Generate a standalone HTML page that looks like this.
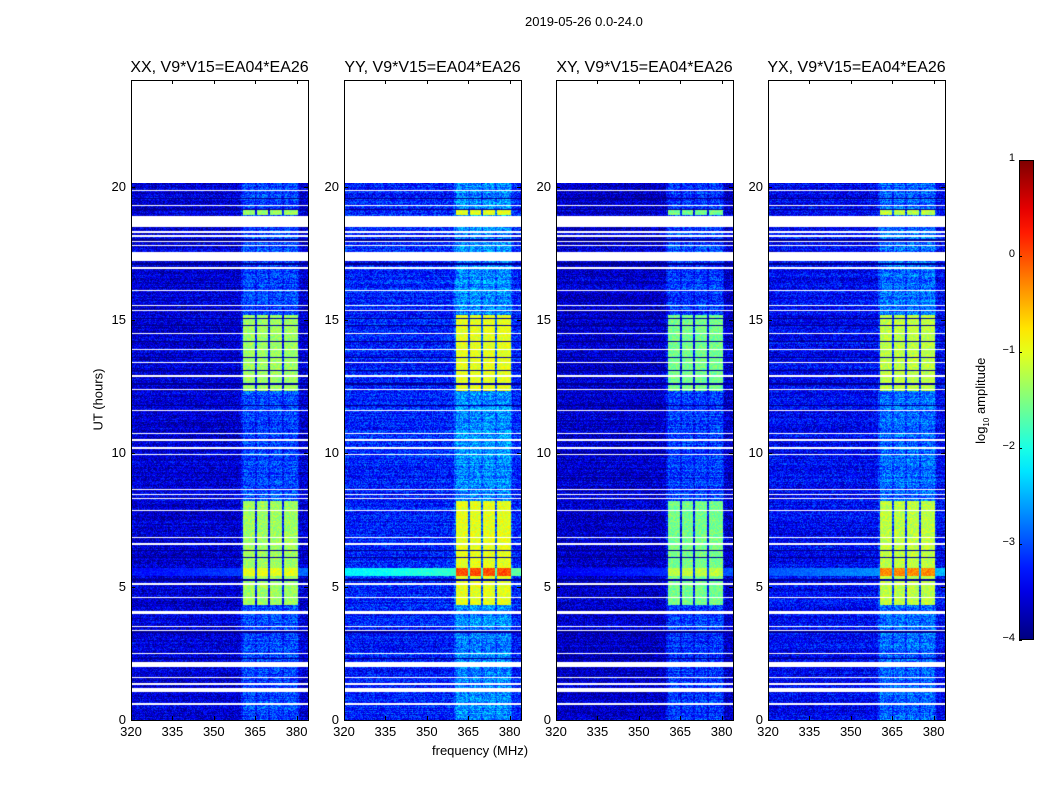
<!DOCTYPE html>
<html><head><meta charset="utf-8"><style>
body{margin:0;background:#fff;font-family:"Liberation Sans",sans-serif;}
#wrap{position:relative;width:1050px;height:800px;overflow:hidden;background:#fff}
.t{position:absolute;font-size:13px;color:#000;white-space:nowrap}
canvas{position:absolute}
.frame{position:absolute;border:1px solid #000;box-sizing:border-box}
.tk{position:absolute;background:#000}
</style></head><body>
<div id="wrap">
<div class="t" style="left:525px;top:14px">2019-05-26 0.0-24.0</div>
<div class="t" style="left:432px;top:743px">frequency (MHz)</div>
<div class="t" style="left:55px;top:392px;transform:rotate(-90deg);transform-origin:center;width:86px;text-align:center">UT (hours)</div>
<div class="t" style="left:935px;top:392px;transform:rotate(-90deg);width:94px;text-align:center">log<sub style="font-size:8px">10</sub> amplitude</div>
<div id="cbar" style="position:absolute;left:1019px;top:160px;width:15px;height:480px;border:1px solid #000;box-sizing:border-box"></div>
</div>
<script>
const panelNames=["XX","YY","XY","YX"];
const panelBase=[-3.6,-3.25,-3.65,-3.4];
const panelRfi=[-1.35,-1.0,-1.55,-1.2];
const panelEvent=[-3.4,-2.2,-3.5,-3.0];
const panelEventRfi=[-1.0,0.0,-1.2,-0.3];
const whiteGaps=[[18.5,18.9],[17.2,17.55],[3.97,4.1],[2.0,2.17],[1.05,1.2]];
const thinWhite=[19.85,19.3,18.3,18.15,17.95,17.8,16.95,16.1,15.55,15.35,14.5,13.9,13.4,12.9,12.4,11.6,10.75,10.5,10.2,9.95,8.65,8.45,8.3,7.85,6.85,6.6,5.1,4.6,3.5,3.35,2.5,1.6,1.35,0.6];
const darkLines=[19.55,19.15,18.0,17.1,15.05,14.8,14.2,13.6,13.1,12.6,11.8,6.35,6.1,5.25,3.3,2.3];
const burstTimes=[[12.35,15.2],[4.3,8.2],[18.95,19.15]];
const rfiChannels=[[360.5,365],[365.5,369.8],[370.5,374.6],[375.6,380.4]];
const eventBand=[5.4,5.7];
const xTicks=[320,335,350,365,380];
const yTicks=[0,5,10,15,20];
const cbTicks=[1,0,-1,-2,-3,-4];
const dataEnd=20.15;

const panelX=[131,344,556,768],PW=177,PT=80,PH=640;
const yOf=h=>720-h*26.67;
const xOf=(p,f)=>panelX[p]+(f-320)*2.76;
const vmin=-4,vmax=1;
function jet(v){let t=Math.max(0,Math.min(1,(v-vmin)/(vmax-vmin)));
 const c=x=>Math.round(255*Math.max(0,Math.min(1,1.5-Math.abs(4*t-x))));return [c(3),c(2),c(1)];}
function hash(a,b){let h=(a*374761393+b*668265263)|0;h=(h^(h>>>13))*1274126177|0;h^=h>>>16;return (h>>>0)/4294967296;}
const wrap=document.getElementById('wrap');
function div(cls,css,name,txt){const d=document.createElement('div');d.className=cls;d.style.cssText=css;
 
 
 if(txt!==undefined)d.textContent=txt;wrap.appendChild(d);return d;}
for(let p=0;p<4;p++){
 const cv=document.createElement('canvas');
 
 
 const top=Math.round(yOf(dataEnd));cv.width=PW;cv.height=720-top;
 cv.style.left=panelX[p]+'px';cv.style.top=top+'px';
 const ctx=cv.getContext('2d');const img=ctx.createImageData(PW,cv.height);
 for(let y=0;y<cv.height;y++){
  const h=(720-top-y-0.5)/26.67;
  let white=whiteGaps.some(g=>h>=g[0]&&h<=g[1])||thinWhite.some(t=>Math.abs(h-t)<0.025);
  let dark=darkLines.some(t=>Math.abs(h-t)<0.025);
  const rowOff=(hash(y,p*7+3)-0.5)*0.35;
  for(let x=0;x<PW;x++){
   const f=320+(x+0.5)/2.76;const i=(y*PW+x)*4;
   if(white){img.data[i]=img.data[i+1]=img.data[i+2]=255;img.data[i+3]=255;continue;}
   let v=panelBase[p]+rowOff+(hash(x+p*1000,y)-0.5)*0.9;
   const inRfi=f>=360&&f<=381;
   const ch=rfiChannels.some(c=>f>=c[0]&&f<=c[1]);
   if(inRfi){v+=ch?0.55:0.3;}
   const inEvent=h>=eventBand[0]&&h<=eventBand[1];
   if(inEvent){const ev=panelEvent[p]+(f-320)/60*0.5+(hash(x,y+77)-0.5)*0.3;v=Math.max(v,ev);}
   if(inRfi&&ch&&burstTimes.some(b=>h>=b[0]&&h<=b[1])){
     v=panelRfi[p]+(hash(x+5,y+p)-0.5)*0.5;
     if(inEvent)v=panelEventRfi[p]+(hash(x,y)-0.5)*0.4;}
   if(dark)v=vmin-0.2+hash(x,y)*0.5;
   const c=jet(v);img.data[i]=c[0];img.data[i+1]=c[1];img.data[i+2]=c[2];img.data[i+3]=255;
  }
 }
 ctx.putImageData(img,0,0);wrap.appendChild(cv);
 div('frame',`left:${panelX[p]}px;top:${PT}px;width:${PW+1}px;height:${PH+1}px`,'panel-frame-'+panelNames[p].toLowerCase());
 div('t',`left:${panelX[p]-5}px;top:59px;width:${PW+10}px;text-align:center;font-size:16px`,'panel-title-'+panelNames[p].toLowerCase(),panelNames[p]+', V9*V15=EA04*EA26');
 xTicks.forEach(f=>{const x=xOf(p,f);
  div('tk',`left:${x}px;top:${720-4}px;width:1px;height:4px`,'x-tick');
  div('tk',`left:${x}px;top:${PT}px;width:1px;height:4px`,'x-tick');
  div('t',`left:${x-15}px;top:724px;width:30px;text-align:center`,'x-tick-label',String(f));});
 yTicks.forEach(h=>{const y=yOf(h);
  div('tk',`left:${panelX[p]}px;top:${y}px;width:4px;height:1px`,'y-tick');
  div('tk',`left:${panelX[p]+PW-4}px;top:${y}px;width:4px;height:1px`,'y-tick');
  div('t',`left:${panelX[p]-35}px;top:${y-8}px;width:30px;text-align:right`,'y-tick-label',String(h));});
}
let stops=[];for(let k=0;k<=20;k++){const v=vmax-(vmax-vmin)*k/20;const c=jet(v);stops.push(`rgb(${c})`);}
document.getElementById('cbar').style.background=`linear-gradient(to bottom,${stops.join(',')})`;
cbTicks.forEach(v=>{const y=160+(vmax-v)/(vmax-vmin)*480;
 div('tk',`left:1019px;top:${y}px;width:3px;height:1px`,'colorbar-tick');
 div('t',`left:985px;top:${y-8}px;width:30px;text-align:right;font-size:11px`,'colorbar-tick-label',v<0?'\u2212'+(-v):String(v));});
</script>
</body></html>
